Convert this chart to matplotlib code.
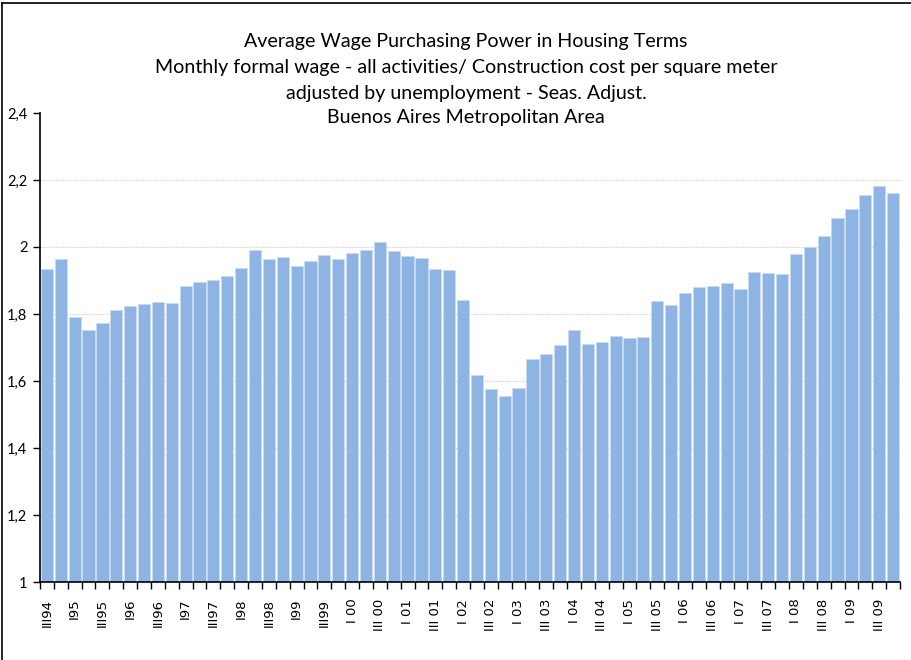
import matplotlib
matplotlib.use("Agg")
import matplotlib.pyplot as plt
from matplotlib.lines import Line2D
import numpy as np

plt.rcParams['font.family'] = ['Lato', 'DejaVu Sans']

title_lines = [
    "Average Wage Purchasing Power in Housing Terms",
    "Monthly formal wage - all activities/ Construction cost per square meter",
    "adjusted by unemployment - Seas. Adjust.",
    "Buenos Aires Metropolitan Area",
]

quarters = []
for y in range(1994, 2010):
    for q in ["I", "II", "III", "IV"]:
        quarters.append((q, y))
quarters = quarters[2:]  # III 94 .. IV 09

values = [1.935, 1.963, 1.790, 1.751, 1.772, 1.811, 1.823, 1.829, 1.835, 1.832,
          1.883, 1.895, 1.901, 1.913, 1.936, 1.990, 1.963, 1.969, 1.942, 1.957,
          1.975, 1.963, 1.981, 1.990, 2.014, 1.987, 1.972, 1.966, 1.933, 1.930,
          1.841, 1.617, 1.575, 1.554, 1.578, 1.665, 1.680, 1.707, 1.751, 1.710,
          1.716, 1.733, 1.727, 1.730, 1.838, 1.826, 1.862, 1.880, 1.883, 1.892,
          1.874, 1.924, 1.921, 1.919, 1.978, 1.999, 2.032, 2.086, 2.113, 2.154,
          2.181, 2.160]

def qlabel(q, y):
    yy = y % 100
    if y < 2000:
        return f"{q}{yy:02d}"
    return f"{q} {yy:02d}"

labels = [qlabel(q, y) if i % 2 == 0 else "" for i, (q, y) in enumerate(quarters)]

yticks = [1.0, 1.2, 1.4, 1.6, 1.8, 2.0, 2.2, 2.4]
ytick_labels = ["1", "1,2", "1,4", "1,6", "1,8", "2", "2,2", "2,4"]

fig = plt.figure(figsize=(9.11, 6.6), dpi=100)
W, H = 911, 660
ax = fig.add_axes([40 / W, (H - 582) / H, (900 - 40) / W, (582 - 113) / H])

x = np.arange(len(values))
ax.bar(x, np.array(values) - 1.0, bottom=1.0, width=0.88, color="#8EB4E3",
       edgecolor="#C9DAF0", linewidth=0.6, zorder=2)

ax.set_xlim(-0.5, len(values) - 0.5)
ax.set_ylim(1.0, 2.4)
ax.set_yticks(yticks)
ax.set_yticklabels(ytick_labels, fontsize=10.5)
for yv in yticks[1:-1]:
    ax.axhline(yv, color="#D0D0D0", linestyle=(0, (1, 1)), linewidth=0.8, zorder=1)

ax.set_xticks(x)
ax.set_xticklabels(labels, rotation=90, fontsize=9.5, family=['DejaVu Sans'])
ax.tick_params(axis='x', which='major', length=0, pad=12)
ax.set_xticks(np.arange(-0.5, len(values), 1.0), minor=True)
ax.tick_params(axis='x', which='minor', length=5, width=1, direction='out', color='black')
ax.tick_params(axis='y', length=5, width=1, color='black', pad=4)

for s in ['top', 'right']:
    ax.spines[s].set_visible(False)
ax.spines['left'].set_linewidth(1.2)
ax.spines['bottom'].set_linewidth(1.2)

ys = [41, 67, 93, 118]
for t, yp in zip(title_lines, ys):
    fig.text(466 / W, 1 - yp / H, t, ha='center', va='center', fontsize=14.1)

# frame top and left
fig.add_artist(Line2D([2 / W, 2 / W], [0, 1 - 3 / H], transform=fig.transFigure, color='black', linewidth=1.2))
fig.add_artist(Line2D([2 / W, 1], [1 - 3 / H, 1 - 3 / H], transform=fig.transFigure, color='black', linewidth=1.2))

fig.savefig("out.png", dpi=100)
